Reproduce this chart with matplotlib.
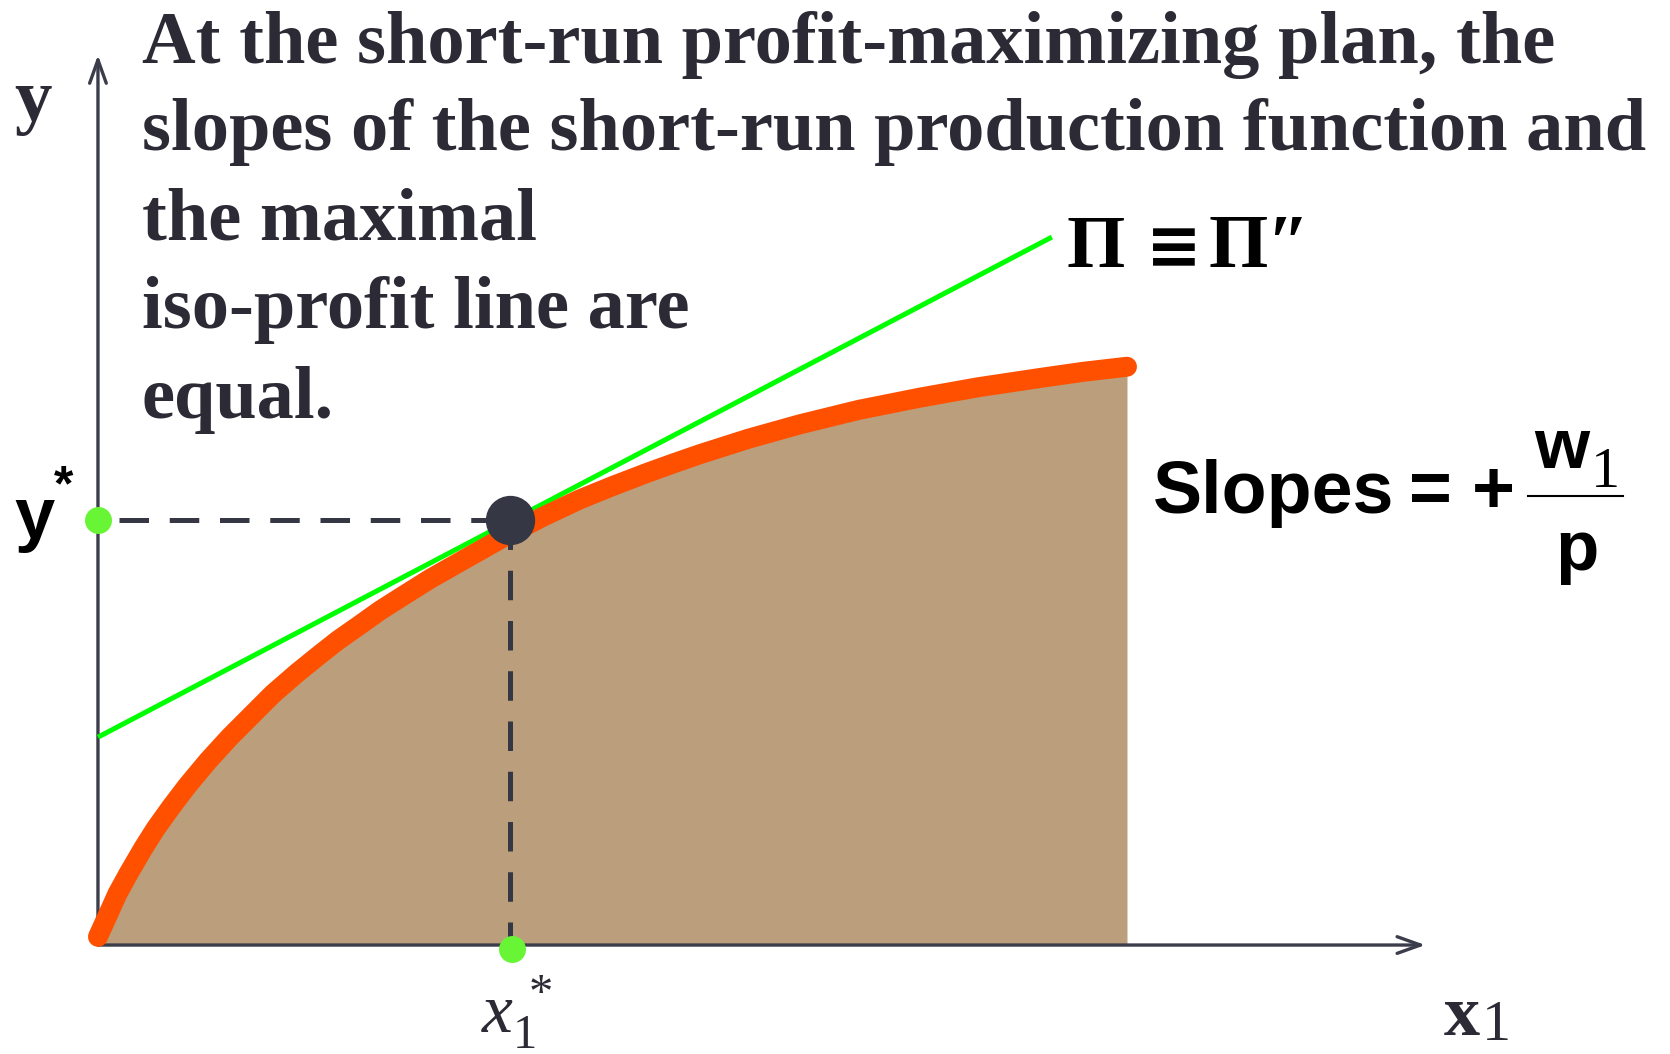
import matplotlib
matplotlib.use('Agg')
import matplotlib.pyplot as plt
from matplotlib.lines import Line2D

plt.rcParams['mathtext.fontset'] = 'custom'
plt.rcParams['mathtext.rm'] = 'Liberation Serif'
plt.rcParams['mathtext.it'] = 'Liberation Serif:italic'
plt.rcParams['mathtext.bf'] = 'Liberation Serif:bold'

# ---------------- data ----------------
curve_x = [0.00, 0.10, 0.19, 0.30, 0.44, 0.56, 0.71, 0.87, 1.07, 1.28, 1.51, 1.70,
           1.93, 2.14, 2.33, 2.53, 2.74, 2.96, 3.23, 3.60, 3.99, 4.32, 4.68, 5.00,
           5.34, 5.59, 5.85, 6.32, 6.82, 7.39, 7.99, 8.55, 9.15, 9.57, 10.0]
curve_y = [0.08, 0.30, 0.50, 0.70, 0.94, 1.13, 1.34, 1.55, 1.79, 2.02, 2.25, 2.44,
           2.64, 2.81, 2.96, 3.10, 3.25, 3.39, 3.56, 3.77, 3.99, 4.16, 4.33, 4.46,
           4.59, 4.68, 4.77, 4.92, 5.06, 5.20, 5.32, 5.42, 5.51, 5.57, 5.62]
isoprofit_x = [0.0, 9.27]
isoprofit_y = [2.02, 6.88]
x_star = 4.0
y_star = 4.13
x_axis_end = 12.9
y_axis_end = 8.65

title_lines = [
    "At the short-run profit-maximizing plan, the",
    "slopes of the short-run production function and",
    "the maximal",
    "iso-profit line are",
    "equal.",
]

# ---------------- colours ----------------
C_TEXT = '#2b2a35'
C_AXIS = '#3c3d4b'
C_FILL = '#bb9e7b'
C_CURVE = '#ff5000'
C_ISO = '#00ff00'
C_DOT = '#353744'
C_GDOT = '#67f535'

W, H = 1670, 1054
fig = plt.figure(figsize=(W / 100, H / 100), dpi=100)
ax = fig.add_axes([0, 0, 1, 1])
ax.set_xlim(-0.952, 15.277)
ax.set_ylim(-1.059, 9.184)
ax.axis('off')


def fp(x, y):
    return x / W, 1 - y / H


# shaded feasible set
ax.fill_between(curve_x, curve_y, 0, color=C_FILL, lw=0, zorder=1)

# axes with arrows
arrow_kw = dict(arrowstyle='->,head_length=0.42,head_width=0.15', lw=2.4,
                color=C_AXIS, shrinkA=0, shrinkB=0, mutation_scale=40)
ax.annotate('', xy=(x_axis_end, 0), xytext=(0, 0), arrowprops=arrow_kw, zorder=2)
ax.annotate('', xy=(0, y_axis_end), xytext=(0, 0), arrowprops=arrow_kw, zorder=2)

# iso-profit line
ax.plot(isoprofit_x, isoprofit_y, color=C_ISO, lw=3.6, solid_capstyle='butt', zorder=3)

# production function
ax.plot(curve_x, curve_y, color=C_CURVE, lw=14.4, solid_capstyle='round',
        solid_joinstyle='round', zorder=4)

# dashed guides
dash = [5.9, 4.15]
ax.plot([0.2, x_star], [y_star, y_star], color=C_DOT, lw=3.6, dashes=dash, zorder=5)
ax.plot([x_star, x_star], [y_star, 0.05], color=C_DOT, lw=3.6, dashes=dash, zorder=5)

# points
ax.plot([x_star], [y_star], 'o', color=C_DOT, ms=34.5, zorder=6)
ax.plot([0], [y_star], 'o', color=C_GDOT, ms=19.4, mew=0, zorder=6)
ax.plot([x_star + 0.02], [-0.04], 'o', color=C_GDOT, ms=19.4, mew=0, zorder=6)

# ---------------- texts ----------------
SERIF = ['Liberation Serif', 'DejaVu Serif']
serif_b = dict(family=SERIF, weight='bold')
sans_b = dict(family=['Liberation Sans', 'DejaVu Sans'], weight='bold')

baselines = [63, 150, 240, 328, 418]
for line, yb in zip(title_lines, baselines):
    fig.text(*fp(142, yb), line, fontsize=53.6, color=C_TEXT, va='baseline', ha='left', **serif_b)

# axis label y
fig.text(*fp(33, 120), 'y', fontsize=54, color=C_TEXT, va='baseline', ha='center', **serif_b)

# Pi label
fig.text(*fp(1066, 267), 'Π', fontsize=54, color='black', va='baseline', ha='left', **serif_b)
fig.text(*fp(1146, 268), '≡', fontsize=48, color='black', va='baseline', ha='left',
         family=['DejaVu Sans'], weight='bold')
fig.text(*fp(1208, 267), 'Π″', fontsize=55, color='black', va='baseline', ha='left', **serif_b)

# y* label
fig.text(*fp(14, 538), 'y', fontsize=52, color='black', va='baseline', ha='left', **sans_b)
fig.text(*fp(54, 500), '*', fontsize=36, color='black', va='baseline', ha='left', **sans_b)

# x1* label
fig.text(*fp(481, 1033), r'$x_{1}^{\,*}$', fontsize=50, color=C_TEXT, va='baseline', ha='left')

# x1 axis label
fig.text(*fp(1444, 1035), 'x', fontsize=52, color=C_TEXT, va='baseline', ha='left', **serif_b)
fig.text(*fp(1482, 1040), '1', fontsize=42, color=C_TEXT, va='baseline', ha='left', family=SERIF)

# Slopes = + w1 / p
fig.text(*fp(1153, 513), 'Slopes', fontsize=53, color='black', va='baseline', ha='left', **sans_b)
fig.text(*fp(1409, 513), '=', fontsize=53, color='black', va='baseline', ha='left', **sans_b)
fig.text(*fp(1472, 513), '+', fontsize=53, color='black', va='baseline', ha='left', **sans_b)
fig.text(*fp(1534, 468), 'w', fontsize=51, color='black', va='baseline', ha='left', **sans_b)
fig.text(*fp(1591, 487), '1', fontsize=42, color='black', va='baseline', ha='left', family=SERIF)
fig.add_artist(Line2D([1528 / W, 1623 / W], [1 - 496 / H, 1 - 496 / H], color='black', lw=1.5))
fig.text(*fp(1555, 570), 'p', fontsize=51, color='black', va='baseline', ha='left', **sans_b)

fig.savefig('out.png', dpi=100)
